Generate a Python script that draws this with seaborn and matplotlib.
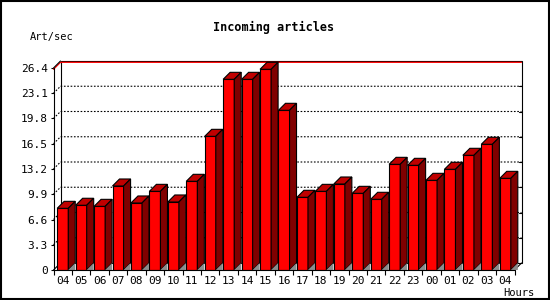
import numpy as np
import pandas as pd
import matplotlib
matplotlib.use("Agg")
import matplotlib.pyplot as plt
from matplotlib.patches import Polygon, Rectangle
import seaborn as sns

# ---- data ----
hours = ["04", "05", "06", "07", "08", "09", "10", "11", "12", "13", "14", "15", "16",
         "17", "18", "19", "20", "21", "22", "23", "00", "01", "02", "03", "04"]
art_per_sec = [8.06, 8.46, 8.32, 10.98, 8.76, 10.28, 8.89, 11.59, 17.47, 24.92, 24.92, 26.23,
               20.87, 9.50, 10.28, 11.24, 10.02, 9.24, 13.81, 13.68, 11.72, 13.16, 14.99,
               16.43, 11.98]
yticks = [0, 3.3, 6.6, 9.9, 13.2, 16.5, 19.8, 23.1, 26.4]
ytick_labels = ["0", "3.3", "6.6", "9.9", "13.2", "16.5", "19.8", "23.1", "26.4"]
title = "Incoming articles"
ylabel = "Art/sec"
xlabel = "Hours"

sns.set_style("white")
plt.rcParams["font.family"] = ["DejaVu Sans Mono", "DejaVu Sans"]
plt.rcParams["text.color"] = "black"
plt.rcParams["xtick.color"] = "black"
plt.rcParams["ytick.color"] = "black"

W, H = 550, 300
fig = plt.figure(figsize=(W / 100, H / 100), dpi=100)
fig.patch.set_facecolor("white")

# pixel geometry
X0, X1 = 53.5, 514.5      # front plane x range
Y0, YT = 270.0, 68.0      # front plane y for 0 and 26.4
D = 7.0                   # depth offset in px
n = len(hours)
ymax = yticks[-1]
sx = (X1 - X0) / n
sy = (Y0 - YT) / ymax
dxd = D / sx
dyd = D / sy

ax = fig.add_axes([X0 / W, (H - Y0) / H, (X1 + D - X0) / W, (Y0 - (YT - D)) / H])
ax.set_facecolor("none")

df = pd.DataFrame({"slot": list(range(n)), "value": art_per_sec})
sns.barplot(data=df, x="slot", y="value", color="#ff0000", width=0.6,
            edgecolor="black", linewidth=0.8, saturation=1, errorbar=None, ax=ax, zorder=5)

ax.set_xlim(-0.5, n - 0.5 + dxd)
ax.set_ylim(0, ymax + dyd)
for s in ax.spines.values():
    s.set_visible(False)

lw = 0.8
xl0, xr0 = -0.5, n - 0.5
# back wall
ax.add_patch(Rectangle((xl0 + dxd, dyd), n, ymax, facecolor="white", edgecolor="black",
                       lw=lw, zorder=1, clip_on=False))
# grid lines (dotted, with diagonal from front axis)
for t in yticks[1:-1]:
    ax.plot([xl0, xl0 + dxd, xr0 + dxd], [t, t + dyd, t + dyd], color="black", lw=0.8,
            linestyle=(0, (1.5, 1.5)), zorder=2, clip_on=False)
    ax.plot([xr0 + dxd - 0.15, xr0 + dxd], [t + dyd, t + dyd], color="black", lw=lw,
            zorder=2, clip_on=False)
# red max line
m = max(art_per_sec)
ax.plot([xl0, xl0 + dxd, xr0 + dxd], [m, m + dyd, m + dyd], color="#ff0000", lw=0.9,
        zorder=3, clip_on=False)
# left wall and floor edges
ax.plot([xl0, xl0], [0, ymax], color="black", lw=lw, zorder=8, clip_on=False)
ax.plot([xl0, xl0 + dxd], [ymax, ymax + dyd], color="black", lw=lw, zorder=3, clip_on=False)
ax.plot([xl0, xl0 + dxd], [0, dyd], color="black", lw=lw, zorder=3, clip_on=False)
ax.plot([xl0, xr0], [0, 0], color="black", lw=lw, zorder=8, clip_on=False)
ax.plot([xr0, xr0 + dxd], [0, dyd], color="black", lw=lw, zorder=3, clip_on=False)

# 3D faces for bars
for p in list(ax.patches):
    if not isinstance(p, Rectangle) or p.get_width() >= 1:
        continue
    xl = p.get_x()
    xr = xl + p.get_width()
    h = p.get_height()
    if h <= 0:
        continue
    top = Polygon([(xl, h), (xr, h), (xr + dxd, h + dyd), (xl + dxd, h + dyd)],
                  closed=True, facecolor="#c00000", edgecolor="black", lw=lw, zorder=6)
    side = Polygon([(xr, 0), (xr, h), (xr + dxd, h + dyd), (xr + dxd, dyd)],
                   closed=True, facecolor="#800000", edgecolor="black", lw=lw, zorder=6)
    tri = Polygon([(xr, 0), (xr + dxd, dyd), (xr + dxd, 0)], closed=True,
                  facecolor="#8c8c8c", edgecolor="none", zorder=6)
    ax.add_patch(top)
    ax.add_patch(side)
    ax.add_patch(tri)

# ticks
ax.set_yticks(yticks)
ax.set_yticklabels(ytick_labels)
ax.set_xticks(range(n))
ax.set_xticklabels(hours)
ax.set_xticks(np.arange(-0.5, n, 1.0), minor=True)
ax.tick_params(axis="y", which="major", left=True, length=2.5, width=0.8, pad=1.5,
               labelsize=8, color="black", labelcolor="black")
ax.tick_params(axis="x", which="major", bottom=True, length=0, pad=4.0, labelsize=8,
               labelcolor="black")
ax.tick_params(axis="x", which="minor", bottom=True, length=3.5, width=0.8, color="black")
ax.set_xlabel("")
ax.set_ylabel("")

fig.text(273.5 / W, 1 - 27 / H, title, ha="center", va="center", fontsize=8.5,
         fontweight="bold", color="black")
fig.text(30 / W, 1 - 37 / H, ylabel, ha="left", va="center", fontsize=7.5, color="black")
fig.text(534 / W, 1 - 292.5 / H, xlabel, ha="right", va="center", fontsize=7.5,
         color="black")

fig.patches.append(Rectangle((0.001, 0.002), 0.997, 0.995, transform=fig.transFigure,
                             fill=False, edgecolor="black", lw=1.5))

fig.savefig("out.png", dpi=100, facecolor="white")
